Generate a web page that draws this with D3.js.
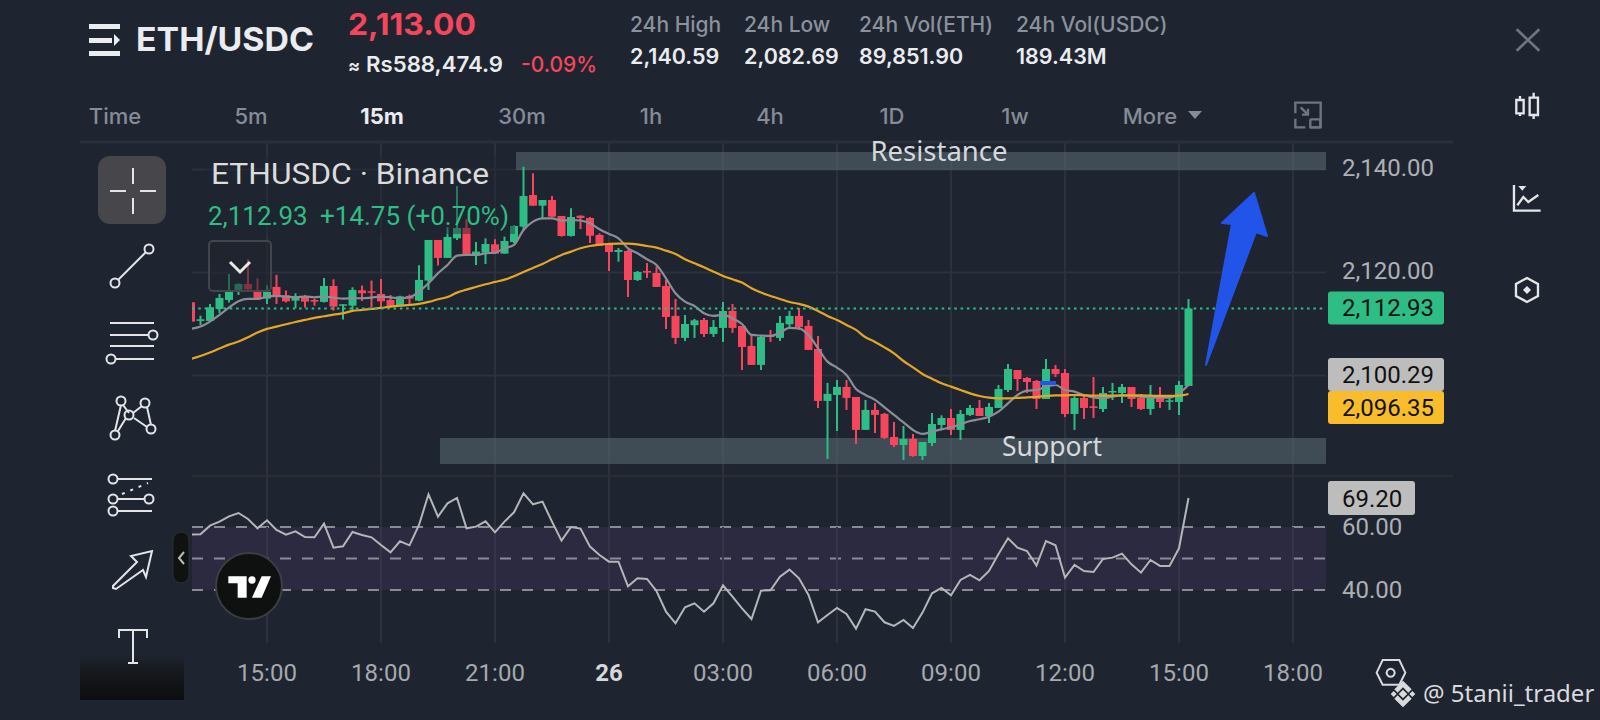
<!DOCTYPE html>
<html><head><meta charset="utf-8">
<style>html,body{margin:0;padding:0;background:#1f2530;overflow:hidden}svg{display:block}</style>
<script src="https://cdn.jsdelivr.net/npm/d3@7/dist/d3.min.js"></script>
</head><body><svg id="c" width="1600" height="720"></svg>
<script>
const opens=[2114.12,2110.50,2110.50,2112.83,2114.57,2116.52,2117.68,2116.13,2114.83,2117.10,2115.48,2114.44,2115.35,2114.57,2114.19,2117.29,2113.54,2113.47,2116.45,2116.26,2115.74,2114.57,2113.47,2115.35,2114.44,2118.33,2126.22,2122.73,2126.54,2128.55,2123.31,2123.76,2125.38,2123.57,2125.83,2128.81,2134.95,2132.88,2133.98,2130.88,2127.00,2130.93,2130.49,2127.19,2125.57,2123.89,2124.08,2118.45,2120.20,2119.81,2117.29,2111.47,2107.20,2109.66,2110.69,2107.97,2109.14,2112.44,2109.53,2105.64,2101.96,2107.78,2107.20,2109.85,2111.47,2109.53,2105.06,2094.97,2096.13,2097.69,2095.74,2089.34,2093.22,2092.45,2087.97,2086.41,2087.58,2084.28,2086.80,2090.30,2091.65,2089.33,2092.24,2093.60,2092.04,2093.60,2097.09,2100.97,2099.42,2098.84,2095.34,2101.17,2100.39,2092.43,2095.54,2093.92,2093.40,2096.64,2096.51,2097.67,2095.54,2093.40,2095.93,2094.82,2094.76,2097.87];
const highs=[2114.5,2111.53,2113.80,2115.74,2119.62,2117.81,2122.47,2118.78,2117.42,2119.43,2116.39,2115.87,2115.54,2114.83,2118.84,2118.58,2113.73,2117.03,2117.36,2118.33,2118.65,2115.54,2115.41,2115.61,2121.30,2126.22,2126.22,2128.68,2136.70,2130.23,2125.83,2126.54,2126.35,2126.87,2129.13,2140.45,2139.16,2133.98,2134.76,2130.88,2132.37,2131.00,2130.68,2127.51,2125.70,2124.67,2124.28,2120.20,2121.75,2121.04,2118.45,2114.77,2111.66,2110.88,2111.08,2110.69,2114.18,2113.80,2109.53,2107.97,2107.78,2108.75,2111.47,2112.44,2113.02,2110.69,2107.58,2098.46,2099.04,2099.04,2095.74,2095.16,2094.58,2092.64,2090.88,2090.10,2088.55,2086.99,2092.63,2092.17,2093.40,2093.21,2094.18,2095.15,2094.57,2098.06,2102.14,2100.97,2099.61,2099.03,2103.11,2101.94,2101.17,2096.12,2096.12,2099.61,2097.67,2098.45,2098.25,2097.67,2096.31,2098.06,2097.67,2096.12,2098.84,2114.75];
const lows=[2110.2,2109.72,2110.37,2111.99,2114.06,2115.54,2116.52,2114.6,2113.80,2113.80,2114.06,2112.96,2113.09,2113.47,2114.06,2112.50,2110.76,2112.63,2114.38,2113.15,2113.02,2113.15,2113.47,2113.73,2114.31,2116.52,2121.24,2122.73,2126.22,2123.31,2121.37,2121.56,2123.57,2123.57,2125.57,2128.16,2132.88,2130.23,2130.62,2126.87,2126.87,2128.35,2125.63,2125.05,2120.20,2122.01,2115.15,2118.26,2118.84,2117.10,2108.94,2106.03,2106.61,2107.20,2107.39,2107.39,2106.42,2108.17,2100.98,2101.96,2100.98,2106.42,2106.61,2109.33,2108.75,2104.87,2093.61,2083.71,2089.14,2093.22,2086.62,2089.34,2088.76,2087.59,2086.03,2083.50,2084.15,2083.50,2086.22,2089.52,2088.36,2087.39,2092.04,2092.04,2090.68,2093.60,2096.70,2096.90,2096.51,2093.40,2095.34,2099.61,2091.85,2089.33,2091.46,2091.65,2092.82,2095.15,2094.57,2093.79,2093.21,2092.24,2093.60,2093.21,2092.24,2097.87];
const closes=[2110.37,2110.82,2113.15,2114.96,2116.13,2117.68,2116.64,2114.70,2116.13,2115.35,2114.31,2115.28,2114.25,2114.25,2117.29,2113.28,2113.73,2116.52,2115.87,2116.00,2114.31,2113.41,2115.28,2114.83,2118.46,2126.22,2122.73,2126.80,2128.55,2123.44,2123.96,2125.44,2123.57,2126.03,2128.94,2134.76,2132.88,2133.98,2130.75,2127.00,2130.68,2130.49,2127.05,2125.05,2123.89,2124.28,2118.45,2120.01,2119.88,2117.10,2111.27,2107.20,2109.91,2110.62,2107.97,2109.33,2112.44,2109.14,2105.45,2101.96,2107.39,2107.39,2110.11,2111.47,2109.33,2104.87,2094.97,2096.33,2097.69,2095.55,2089.34,2093.22,2092.25,2087.79,2086.41,2087.58,2084.28,2086.99,2090.49,2091.65,2089.33,2092.43,2093.60,2092.04,2093.79,2097.28,2101.17,2099.22,2098.64,2095.34,2101.17,2100.20,2092.43,2095.54,2093.60,2093.60,2096.51,2096.90,2097.67,2095.34,2093.40,2096.12,2094.76,2095.08,2098.06,2112.93];
const maFast=[2108.95,2109.40,2110.37,2111.66,2113.09,2114.31,2114.77,2114.77,2115.22,2115.35,2115.22,2115.09,2115.22,2115.09,2115.22,2115.03,2114.83,2114.90,2114.90,2115.03,2115.22,2115.09,2114.90,2115.09,2116.19,2117.81,2119.75,2121.37,2123.18,2123.31,2123.31,2123.63,2123.76,2124.60,2125.25,2128.16,2129.78,2130.43,2130.43,2129.97,2130.10,2130.00,2129.45,2128.29,2127.38,2126.54,2124.60,2123.63,2122.47,2121.37,2118.78,2115.87,2114.25,2113.41,2111.98,2111.47,2111.66,2111.01,2109.91,2107.78,2107.65,2107.58,2108.23,2109.14,2109.07,2107.78,2105.19,2102.60,2101.44,2100.01,2097.30,2096.13,2095.16,2093.73,2092.24,2090.81,2089.33,2088.55,2089.00,2089.45,2089.84,2090.43,2091.07,2091.40,2091.91,2092.88,2094.50,2096.12,2096.96,2097.09,2097.74,2098.06,2097.09,2096.77,2096.12,2095.67,2095.47,2095.80,2096.05,2095.93,2095.80,2095.67,2095.60,2095.60,2096.44,2098.06];
const maSlow=[2103.12,2103.70,2104.35,2105.13,2105.90,2106.49,2107.33,2108.23,2108.95,2109.40,2109.85,2110.30,2110.69,2111.08,2111.40,2111.73,2111.99,2112.44,2112.63,2112.83,2113.02,2113.28,2113.47,2113.60,2113.80,2114.19,2114.70,2115.16,2116.00,2116.58,2117.10,2117.62,2118.07,2118.52,2119.17,2120.01,2120.79,2121.56,2122.47,2123.31,2123.96,2124.60,2125.05,2125.31,2125.44,2125.51,2125.51,2125.38,2125.05,2124.73,2124.15,2123.50,2122.47,2121.69,2120.91,2120.07,2119.23,2118.58,2117.94,2116.84,2116.00,2115.35,2114.77,2114.18,2113.80,2113.28,2112.44,2111.47,2110.69,2109.72,2108.75,2107.33,2106.42,2105.37,2104.21,2102.72,2101.49,2100.20,2099.29,2098.38,2097.74,2097.09,2096.44,2095.93,2095.60,2095.47,2095.47,2095.54,2095.67,2095.73,2095.93,2096.05,2096.05,2096.12,2096.05,2095.99,2095.99,2095.99,2096.05,2096.05,2096.05,2095.99,2095.93,2095.93,2095.99,2096.31];
const rsi=[57.57,57.68,60.43,61.70,63.39,64.45,62.55,59.58,62.12,59.06,57.57,58.63,56.83,56.73,61.07,53.45,53.87,58.42,57.47,56.73,54.29,51.97,55.46,54.19,60.64,70.38,63.29,67.52,69.21,59.58,60.11,61.81,58.31,61.70,64.66,70.69,67.20,68.05,61.70,55.67,59.99,59.48,53.77,51.12,49.00,49.00,41.18,43.72,43.50,39.69,33.13,29.43,34.51,35.78,33.13,35.78,41.49,37.90,34.19,30.81,39.80,39.91,44.24,46.47,43.72,38.43,29.75,32.08,34.30,32.39,27.74,33.88,33.13,29.75,28.59,30.49,27.95,32.82,38.95,40.65,38.32,43.19,44.77,43.08,46.04,51.44,56.41,53.45,52.39,47.73,55.56,54.19,43.93,47.95,46.04,45.72,49.85,50.27,51.54,48.16,45.51,49.53,47.63,47.63,53.24,69.20];
const timeTicks=[[8,"15:00"],[20,"18:00"],[32,"21:00"],[44,"26"],[56,"03:00"],[68,"06:00"],[80,"09:00"],[92,"12:00"],[104,"15:00"],[116,"18:00"]];
const priceTicks=[2140,2120,2100];
const priceLabels=[2140,2120];
const rsiLevels=[60,50,40];
const rsiLabels=[60,40];
const lastPrice=2112.93, maFastLast=2100.29, maSlowLast=2096.35, rsiLast=69.20;
const resistanceBand=[2139.8,2143.3], supportBand=[2082.72,2087.77];
const intervals=[["Time",115],["5m",251],["15m",382],["30m",522],["1h",651],["4h",770],["1D",892],["1w",1015],["More",1150]];
const stats=[["24h High","2,140.59",630],["24h Low","2,082.69",744],["24h Vol(ETH)","89,851.90",859],["24h Vol(USDC)","189.43M",1016]];

const UP="#2ebd85",DOWN="#f6465d",BG="#1f2530",GRID="#2c313c",ROBOTO="Roboto,sans-serif",INTER="Inter,sans-serif";
const svg=d3.select("#c");
svg.append("rect").attr("width",1600).attr("height",720).attr("fill",BG);
const defs=svg.append("defs");
defs.append("clipPath").attr("id","cp").append("rect").attr("x",192).attr("y",142).attr("width",1134).attr("height",334);
defs.append("clipPath").attr("id","cr").append("rect").attr("x",192).attr("y",476).attr("width",1134).attr("height",167);
const g0=defs.append("linearGradient").attr("id","fade").attr("x1",0).attr("x2",0).attr("y1",0).attr("y2",1);
g0.append("stop").attr("offset",0).attr("stop-color","#1f2530");
g0.append("stop").attr("offset",.3).attr("stop-color","#181b20");
g0.append("stop").attr("offset",1).attr("stop-color","#0c0d0e");

const x=d3.scaleLinear().domain([0,105]).range([191,1188.5]);
const y=d3.scaleLinear().domain([2100,2140]).range([375,169]);
const r=d3.scaleLinear().domain([40,60]).range([590,527]);
const idx=d3.range(opens.length);

// grid
const vg=svg.append("g").attr("stroke",GRID).attr("stroke-width",2);
vg.selectAll("line").data(timeTicks).join("line").attr("x1",d=>x(d[0])).attr("x2",d=>x(d[0])).attr("y1",142).attr("y2",643);
svg.append("g").attr("transform","translate(192,0)").call(d3.axisRight(y).tickValues(priceTicks).tickSize(1134).tickFormat(""))
  .call(s=>s.select(".domain").remove()).call(s=>s.selectAll("line").attr("stroke",GRID).attr("stroke-width",2));
svg.append("line").attr("x1",80).attr("x2",1453).attr("y1",142).attr("y2",142).attr("stroke","#2a303b").attr("stroke-width",3);
svg.append("line").attr("x1",192).attr("x2",1453).attr("y1",476).attr("y2",476).attr("stroke","#2d2d30").attr("stroke-width",2);

// bands
[[resistanceBand,516],[supportBand,440]].forEach(([b,x0])=>{
  svg.append("rect").attr("x",x0).attr("width",1326-x0).attr("y",y(b[1])).attr("height",y(b[0])-y(b[1])).attr("fill","#5a6b74").attr("opacity",.55);
});
const plot=svg.append("g").attr("clip-path","url(#cp)");

// candles
const col=i=>closes[i]>=opens[i]?UP:DOWN;
plot.append("g").selectAll("line").data(idx).join("line")
  .attr("x1",i=>x(i)).attr("x2",i=>x(i)).attr("y1",i=>y(highs[i])).attr("y2",i=>y(lows[i])).attr("stroke",col).attr("stroke-width",2);
plot.append("g").selectAll("rect").data(idx).join("rect")
  .attr("x",i=>x(i)-4).attr("width",8).attr("y",i=>y(Math.max(opens[i],closes[i]))).attr("height",i=>Math.max(1.5,Math.abs(y(opens[i])-y(closes[i])))).attr("fill",col);
const ln=d3.line().x((d,i)=>x(i)).y(d=>y(d)).curve(d3.curveMonotoneX);
plot.append("path").datum(maFast).attr("d",ln).attr("fill","none").attr("stroke","#8a8f97").attr("stroke-width",2.2);
plot.append("path").datum(maSlow).attr("d",ln).attr("fill","none").attr("stroke","#e3a725").attr("stroke-width",2.2);
plot.append("line").attr("x1",1040).attr("x2",1056).attr("y1",383).attr("y2",383).attr("stroke","#2255ee").attr("stroke-width",4);
plot.append("line").attr("x1",192).attr("x2",1326).attr("y1",y(lastPrice)).attr("y2",y(lastPrice)).attr("stroke",UP).attr("stroke-width",2).attr("stroke-dasharray","2.5 3.8");

// legend backdrop, button
svg.append("rect").attr("x",205).attr("y",156).attr("width",310).attr("height",78).attr("fill",BG).attr("opacity",.45);
svg.append("rect").attr("x",209).attr("y",241).attr("width",62).attr("height",50).attr("rx",4).attr("fill",BG).attr("fill-opacity",.55).attr("stroke","#43454a").attr("stroke-width",2);
svg.append("path").attr("d","M230 262 L240 272 L250 262").attr("fill","none").attr("stroke","#e8e8e8").attr("stroke-width",3);

// text helper
const T=(s,xx,yy,size,fill,opt={})=>{const t=svg.append("text").text(s).attr("x",xx).attr("y",yy).attr("font-size",size).attr("fill",fill)
  .attr("font-family",opt.f||ROBOTO).attr("font-weight",opt.w||400).attr("text-anchor",opt.a||"start");
  if(opt.len)t.attr("textLength",opt.len).attr("lengthAdjust","spacingAndGlyphs");return t;};

T("ETHUSDC · Binance",211,184,30,"#dcdcdc",{len:278});
T("2,112.93",208,225,26,UP);T("+14.75 (+0.70%)",320,225,26,UP);
T("Resistance",939,161,27.5,"#d6d9dc",{a:"middle",f:"'Noto Sans',sans-serif"});
T("Support",1052,456,26.5,"#d6d9dc",{a:"middle",f:"'Noto Sans',sans-serif"});

// blue arrow
svg.append("path").attr("d","M1206 365 L1232 224 L1222 223 L1254 193 L1267 236 L1256 232 Z").attr("fill","#2254ea").attr("stroke","#2254ea").attr("stroke-width",2).attr("stroke-linejoin","round");

// price axis
const pa=svg.append("g").attr("transform","translate(1342,0)").call(d3.axisRight(y).tickValues(priceLabels).tickSize(0).tickPadding(0).tickFormat(d3.format(",.2f")));
pa.select(".domain").remove();
pa.selectAll("text").attr("font-family",ROBOTO).attr("font-size",24).attr("fill","#adb0b5").attr("dy","0.28em");
[[lastPrice,UP,"#07120e",291.5],[maFastLast,"#bdbdbd","#111",358],[maSlowLast,"#f9bd2b","#111",391]].forEach(([v,c,t,top])=>{
  svg.append("rect").attr("x",1328).attr("y",top).attr("width",116).attr("height",33).attr("rx",3).attr("fill",c);
  T(d3.format(",.2f")(v),1342,top+24.5,24,t);
});

// RSI
svg.append("rect").attr("x",192).attr("width",1134).attr("y",r(60)).attr("height",r(40)-r(60)).attr("fill","#2b2a40");
const rg=svg.append("g");
rg.selectAll("line").data(rsiLevels).join("line").attr("x1",192).attr("x2",1326).attr("y1",d=>r(d)).attr("y2",d=>r(d)).attr("stroke","#8a8a98").attr("stroke-width",2).attr("stroke-dasharray","11 11");
svg.append("g").selectAll("line").data(timeTicks).join("line").attr("x1",d=>x(d[0])).attr("x2",d=>x(d[0])).attr("y1",527).attr("y2",590).attr("stroke","#353547").attr("stroke-width",2);
svg.append("g").attr("clip-path","url(#cr)").append("path").datum(rsi).attr("d",d3.line().x((d,i)=>x(i)).y(d=>r(d))).attr("fill","none").attr("stroke","#b4b6b8").attr("stroke-width",2);
const ra=svg.append("g").attr("transform","translate(1342,0)").call(d3.axisRight(r).tickValues(rsiLabels).tickSize(0).tickPadding(0).tickFormat(d3.format(".2f")));
ra.select(".domain").remove();
ra.selectAll("text").attr("font-family",ROBOTO).attr("font-size",24).attr("fill","#adb0b5").attr("dy","0.32em");
svg.append("rect").attr("x",1328).attr("y",481).attr("width",87).attr("height",34).attr("rx",3).attr("fill","#bdbdbd");
T(d3.format(".2f")(rsiLast),1342,506.5,24,"#111");

// time axis
timeTicks.forEach(([i,s])=>T(s,x(i),681,24,s==="26"?"#d6d8da":"#a6a9ae",{a:"middle",w:s==="26"?700:400}));

// header
svg.append("g").attr("fill","#eaecef").selectAll("path").data(["M89 24h31v5h-31z","M89 38h23v5h-23z","M89 51h31v5h-31z","M114 34l6 6-6 6z"]).join("path").attr("d",d=>d);
T("ETH/USDC",136,51,33,"#eaecef",{f:INTER,w:700,len:178});
T("2,113.00",348,35,30,DOWN,{f:INTER,w:700,len:128});
T("≈",348,72,18,"#eaecef",{f:INTER,w:700});
T("Rs588,474.9",366,72,22,"#eaecef",{f:INTER,w:600,len:137});
T("-0.09%",521,72,22,DOWN,{f:INTER,w:500,len:76});
stats.forEach(([a,b,xx])=>{T(a,xx,32,21,"#8a919c",{f:INTER,w:500});T(b,xx,64,21.5,"#eaecef",{f:INTER,w:600});});
intervals.forEach(([s,xx])=>T(s,xx,124,22,s==="15m"?"#eaecef":"#858c97",{a:"middle",f:INTER,w:s==="15m"?700:500}));
svg.append("path").attr("d","M1188 111h14l-7 8z").attr("fill","#858c97");

// right icons (geometry in zoomed units)
const ri=svg.append("g").attr("transform","translate(1260,20) scale(.3333)").attr("fill","none").attr("stroke","#e4e6e8").attr("stroke-width",7);
ri.append("path").attr("d","M770 28L838 92M838 28L770 92").attr("stroke","#6f7680").attr("stroke-width",8);
ri.append("path").attr("d","M769 240h22v40h-22zM780 228v12M780 280v8M809 233h25v52h-25zM821 218v15M821 285v12");
ri.append("path").attr("d","M762 495V572H842M772 556L790 531L805 546L835 525");
ri.append("path").attr("d","M775 498h24l-12 14z").attr("fill","#e4e6e8").attr("stroke","none");
ri.append("path").attr("d","M801 774L834 792V828L801 846L768 828V792Z");
ri.append("path").attr("d","M801 798L813 810L801 822L789 810Z").attr("fill","#e4e6e8").attr("stroke","none");
ri.append("path").attr("d","M106 280V248H182V322H148M106 296V322H136M122 262L144 284M144 266V284H126").attr("stroke","#6f7680");
ri.append("rect").attr("x",151).attr("y",298).attr("width",30).attr("height",24).attr("rx",3).attr("stroke","#6f7680");

// left toolbar
svg.append("rect").attr("x",80).attr("y",654).attr("width",104).attr("height",46).attr("fill","url(#fade)");
svg.append("rect").attr("x",98).attr("y",156).attr("width",68).attr("height",68).attr("rx",12).attr("fill","#47474b");
const lt=svg.append("g").attr("fill","none").attr("stroke","#e2e4e6").attr("stroke-width",2);
lt.append("path").attr("d","M110 191h16M140 191h16M133 168v16M133 198v16");
const dot=(cx,cy,rr=4.5)=>lt.append("circle").attr("cx",cx).attr("cy",cy).attr("r",rr);
lt.append("path").attr("d","M118 280L146 252");dot(149,249);dot(115,283);
lt.append("path").attr("d","M110 323H154M110 335H149M110 346H154M116 359H154");dot(153,335);dot(111,359);
lt.append("path").attr("d","M121 405L115 431M123 405L129 413M126 418L118 431M133 413L142 406M134 418L147 427M147 407L151 425");
dot(121,401);dot(145,403);dot(129,415);dot(115,435);dot(151,429);
lt.append("path").attr("d","M117 479H152M117 499H145M117 511H152");dot(113,479);dot(113,499);dot(149,499);dot(113,511);
lt.append("path").attr("d","M122 494L148 483").attr("stroke-dasharray","3 6");
lt.append("path").attr("d","M113 588L116 589L143 570L146 577L152 551L131 556L137 562L113 586Z");
lt.append("path").attr("d","M119 638V630H147V638M133 630V662M128 663H138");

// collapse pill & TradingView badge
svg.append("rect").attr("x",173).attr("y",532).attr("width",16).attr("height",51).attr("rx",8).attr("fill","#0f1211").attr("stroke","#2c2f33");
svg.append("path").attr("d","M184 552L179 558L184 564").attr("fill","none").attr("stroke","#b8bbbe").attr("stroke-width",2);
svg.append("circle").attr("cx",249).attr("cy",586).attr("r",33).attr("fill","#0f1110").attr("stroke","#3c3e42").attr("stroke-width",2);
const tv=svg.append("g").attr("transform","translate(170,470) scale(.3333)").attr("fill","#fff");
tv.append("path").attr("d","M175 319H230V383H203V340H175ZM275 319H303L275 383H246Z");
tv.append("circle").attr("cx",246).attr("cy",330).attr("r",11);

// watermark
const wm=svg.append("g").attr("transform","translate(1290,620) scale(.3333)");
wm.append("path").attr("d","M278 120H328L346 158L328 194H278L260 158Z M302 146a12 12 0 1 0 .01 0Z").attr("fill","none").attr("stroke","#d8dadc").attr("stroke-width",6);
wm.append("path").attr("d","M339 182L365 208L355 218L339 202L323 218L313 208ZM339 262L365 236L355 226L339 242L323 226L313 236ZM339 209L352 222L339 235L326 222ZM311 213L320 222L311 231L302 222ZM367 213L376 222L367 231L358 222Z").attr("fill","#d8dadc");
T("@ 5tanii_trader",1423,702,24,"#d8dadc",{f:"'Noto Sans',sans-serif"});
</script></body></html>
